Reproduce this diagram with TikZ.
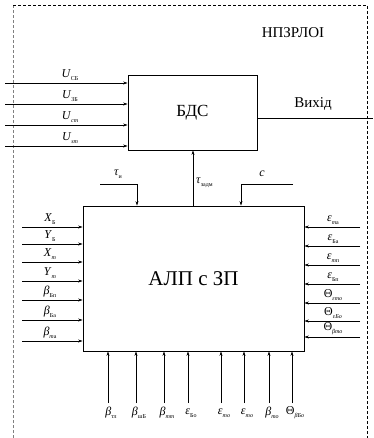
\documentclass[tikz,border=0pt]{standalone}
\usepackage{fontspec}
\setmainfont{Liberation Serif}
\usetikzlibrary{arrows.meta}
\newcommand\sbs[2]{\textit{#1}\raisebox{-0.6ex}{\fontsize{6}{7}\selectfont #2}}
\newcommand\sbu[2]{#1\raisebox{-0.6ex}{\fontsize{6}{7}\selectfont #2}}
\begin{document}
\begin{tikzpicture}[x=1pt,y=-1pt,
  blk/.style={draw,line width=0.8pt,inner sep=0pt},
  arr/.style={-{Stealth[length=4.5pt,width=3pt]},line width=0.6pt},
  lbl/.style={font=\fontsize{12}{14}\selectfont,inner sep=1pt},
  frame/.style={dashed,line width=0.7pt,dash pattern=on 3pt off 2pt}]
\useasboundingbox (0,0) rectangle (373,438);
% frame
\draw[frame,gray] (13,438) -- (13,5);
\draw[frame] (13,5) -- (367,5) -- (367,438);
\node[font=\fontsize{15}{18}\selectfont] (title) at (293,33) {НПЗРЛОІ};
% blocks
\node[blk,minimum width=129pt,minimum height=75pt,font=\fontsize{17}{20}\selectfont] (bds) at (192.5,112.5) {БДС};
\node[blk,minimum width=221pt,minimum height=145pt,font=\fontsize{21}{25}\selectfont] (alp) at (193.5,278.5) {АЛП с ЗП};
% BDS inputs
\foreach \y/\t [count=\i] in {83/{\sbs{U}{СБ}},104/{\sbs{U}{ЗБ}},125/{\sbs{U}{\itshape cm}},146/{\sbs{U}{\itshape sm}}}{
  \coordinate (u\i) at (5,\y);
  \draw[arr] (u\i) -- (u\i -| bds.west);
  \node[lbl,anchor=south] (ul\i) at (70,\y-1) {\t};
}
% output
\coordinate (out) at (373,118);
\draw[line width=0.6pt] (bds.east |- out) -- (out);
\node[font=\fontsize{15}{18}\selectfont] (outl) at (313,104) {Вихід};
% tau zadm
\coordinate (tz) at (193,0);
\draw[arr] (tz |- alp.north) -- (tz |- bds.south);
\node[lbl,anchor=west] (tzl) at (195,183) {\sbs{τ}{задм}};
% tau i
\coordinate (ti0) at (100,184);
\coordinate (ti1) at (137,184);
\draw[arr] (ti0) -- (ti1) -- (ti1 |- alp.north);
\node[lbl] (til) at (118,174) {\sbs{τ}{и}};
% c
\coordinate (c0) at (293,184);
\coordinate (c1) at (241,184);
\draw[arr] (c0) -- (c1) -- (c1 |- alp.north);
\node[lbl] (cl) at (262,174) {\textit{c}};
% left inputs
\foreach \y/\t [count=\i] in {227/{\sbs{X}{Б}},244/{\sbs{Y}{Б}},262/{\sbs{X}{\itshape m}},281/{\sbs{Y}{\itshape m}},300/{\sbs{β}{Бп}},320/{\sbs{β}{Ба}},341/{\sbs{β}{\itshape m\upshape а}}}{
  \coordinate (l\i) at (22,\y);
  \draw[arr] (l\i) -- (l\i -| alp.west);
  \node[lbl,anchor=south] (ll\i) at (50,\y-1) {\t};
}
% right inputs
\foreach \y/\t [count=\i] in {227/{\sbs{ε}{\itshape m\upshape а}},246/{\sbs{ε}{Ба}},265/{\sbs{ε}{\itshape m\upshape п}},284/{\sbs{ε}{Бп}},303/{\sbu{Θ}{\itshape εmо}},321/{\sbu{Θ}{\itshape εБо}},337/{\sbu{Θ}{\itshape βmо}}}{
  \coordinate (r\i) at (360,\y);
  \draw[arr] (r\i) -- (r\i -| alp.east);
  \node[lbl,anchor=south] (rl\i) at (333,\y-1) {\t};
}
% bottom inputs
\foreach \x/\t [count=\i] in {108/{\sbs{β}{тл}},136/{\sbs{β}{шБ}},164/{\sbs{β}{\itshape mm}},188/{\sbs{ε}{Бо}},221/{\sbs{ε}{\itshape mо}},244/{\sbs{ε}{\itshape mо}},269/{\sbs{β}{\itshape mо}},292/{\sbu{Θ}{\itshape βБо}}}{
  \coordinate (b\i) at (\x,403);
  \draw[arr] (b\i) -- (b\i |- alp.south);
  \node[lbl] (bl\i) at (\x+3,413) {\t};
}
\end{tikzpicture}
\end{document}
